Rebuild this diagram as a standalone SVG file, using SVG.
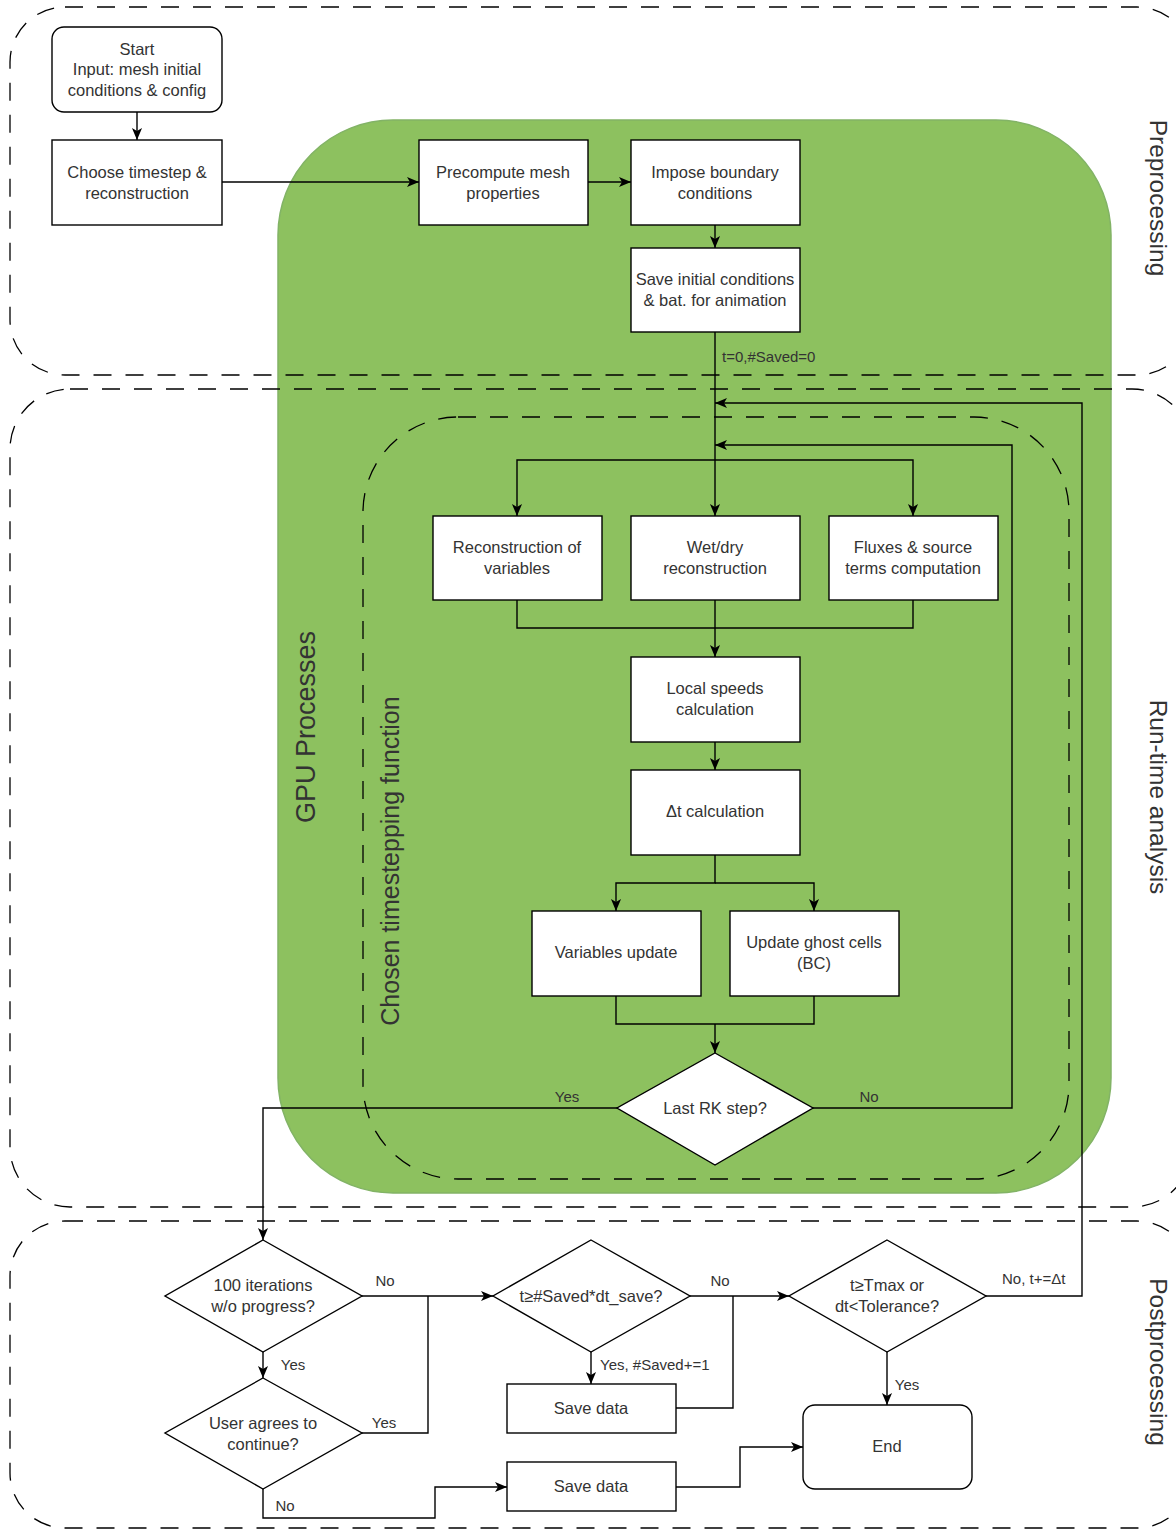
<svg xmlns="http://www.w3.org/2000/svg" width="1176" height="1530" viewBox="0 0 1176 1530">
<style>
text{font-family:"Liberation Sans",Arial,sans-serif;fill:#333;text-anchor:middle;dominant-baseline:central}
.n{font-size:16.5px}
.l{font-size:15px}
.lab{font-size:15px;text-anchor:start}
.big{font-size:24.5px}
.box{fill:#fff;stroke:#000;stroke-width:1.4}
.region{fill:none;stroke:#000;stroke-width:1.3;stroke-dasharray:18 14}
.c{fill:none;stroke:#000;stroke-width:1.4}
</style>
<defs>
<marker id="arr" markerUnits="userSpaceOnUse" markerWidth="12" markerHeight="12" refX="10" refY="5" orient="auto" viewBox="0 0 10 10">
<path d="M0,0.8 L10,5 L0,9.2 L2.5,5 z" fill="#000"/>
</marker>
</defs>
<rect x="0" y="0" width="1176" height="1530" fill="#fff"/>

<g id="gpu">
<rect x="278" y="120" width="833" height="1073" rx="115" fill="#8dc15f" stroke="#82b366" stroke-width="1.5"/>
<text class="big" transform="translate(306,727) rotate(-90)" style="font-size:27px">GPU Processes</text>
</g>
<g id="timestepping">
<rect x="363" y="417" width="706" height="762" rx="95" class="region"/>
<text class="big" transform="translate(390,861) rotate(-90)" style="font-size:25px">Chosen timestepping function</text>
</g>
<g id="preprocessing">
<rect x="10" y="7" width="1182" height="368" rx="55" class="region"/>
<text class="big" transform="translate(1158,198) rotate(90)">Preprocessing</text>
</g>
<g id="runtime">
<rect x="10" y="389" width="1182" height="818" rx="60" class="region"/>
<text class="big" transform="translate(1158,797) rotate(90)">Run-time analysis</text>
</g>
<g id="postprocessing">
<rect x="10" y="1221" width="1182" height="307" rx="55" class="region"/>
<text class="big" transform="translate(1158,1362) rotate(90)">Postprocessing</text>
</g>

<g id="connectors">
<path class="c" d="M137,112 V140" marker-end="url(#arr)"/>
<path class="c" d="M222,182 H419" marker-end="url(#arr)"/>
<path class="c" d="M588,182 H631" marker-end="url(#arr)"/>
<path class="c" d="M715,225 V248" marker-end="url(#arr)"/>
<path class="c" d="M715,332 V516" marker-end="url(#arr)"/>
<path class="c" d="M715,460 H517 V516" marker-end="url(#arr)"/>
<path class="c" d="M715,460 H913 V516" marker-end="url(#arr)"/>
<path class="c" d="M517,600 V628 H913 V600"/>
<path class="c" d="M715,600 V657" marker-end="url(#arr)"/>
<path class="c" d="M715,742 V770" marker-end="url(#arr)"/>
<path class="c" d="M715,855 V883 H616 V911" marker-end="url(#arr)"/>
<path class="c" d="M715,883 H814 V911" marker-end="url(#arr)"/>
<path class="c" d="M616,996 V1024 H814 V996"/>
<path class="c" d="M715,1024 V1053" marker-end="url(#arr)"/>
<path class="c" d="M813,1108 H1012 V445 H715" marker-end="url(#arr)"/>
<path class="c" d="M617,1108 H263 V1240" marker-end="url(#arr)"/>
<path class="c" d="M362,1296 H493" marker-end="url(#arr)"/>
<path class="c" d="M263,1352 V1378" marker-end="url(#arr)"/>
<path class="c" d="M362,1433 H428 V1296"/>
<path class="c" d="M263,1489 V1518 H435 V1487 H507" marker-end="url(#arr)"/>
<path class="c" d="M690,1296 H789" marker-end="url(#arr)"/>
<path class="c" d="M591,1352 V1384" marker-end="url(#arr)"/>
<path class="c" d="M676,1408 H733 V1296"/>
<path class="c" d="M986,1296 H1082 V403 H715" marker-end="url(#arr)"/>
<path class="c" d="M887,1352 V1405" marker-end="url(#arr)"/>
<path class="c" d="M676,1487 H740 V1447 H803" marker-end="url(#arr)"/>
<text class="lab" x="722" y="356">t=0,#Saved=0</text>
<text class="l" x="567" y="1096">Yes</text>
<text class="l" x="869" y="1096">No</text>
<text class="l" x="385" y="1280">No</text>
<text class="l" x="293" y="1364">Yes</text>
<text class="l" x="384" y="1422">Yes</text>
<text class="l" x="285" y="1505">No</text>
<text class="l" x="720" y="1280">No</text>
<text class="lab" x="600" y="1364">Yes, #Saved+=1</text>
<text class="lab" x="1002" y="1278">No, t+=Δt</text>
<text class="l" x="907" y="1384">Yes</text>
</g>

<g id="start">
<rect class="box" x="52" y="27" width="170" height="85" rx="12"/>
<text class="n" x="137" y="49">Start</text>
<text class="n" x="137" y="69">Input: mesh initial</text>
<text class="n" x="137" y="90">conditions &amp; config</text>
</g>
<g id="choose">
<rect class="box" x="52" y="140" width="170" height="85"/>
<text class="n" x="137" y="172">Choose timestep &amp;</text>
<text class="n" x="137" y="193">reconstruction</text>
</g>
<g id="precompute">
<rect class="box" x="419" y="140" width="169" height="85"/>
<text class="n" x="503" y="172">Precompute mesh</text>
<text class="n" x="503" y="193">properties</text>
</g>
<g id="impose">
<rect class="box" x="631" y="140" width="169" height="85"/>
<text class="n" x="715" y="172">Impose boundary</text>
<text class="n" x="715" y="193">conditions</text>
</g>
<g id="saveinit">
<rect class="box" x="631" y="248" width="169" height="84"/>
<text class="n" x="715" y="279">Save initial conditions</text>
<text class="n" x="715" y="300">&amp; bat. for animation</text>
</g>
<g id="reconstruction">
<rect class="box" x="433" y="516" width="169" height="84"/>
<text class="n" x="517" y="547">Reconstruction of</text>
<text class="n" x="517" y="568">variables</text>
</g>
<g id="wetdry">
<rect class="box" x="631" y="516" width="169" height="84"/>
<text class="n" x="715" y="547">Wet/dry</text>
<text class="n" x="715" y="568">reconstruction</text>
</g>
<g id="fluxes">
<rect class="box" x="829" y="516" width="169" height="84"/>
<text class="n" x="913" y="547">Fluxes &amp; source</text>
<text class="n" x="913" y="568">terms computation</text>
</g>
<g id="localspeeds">
<rect class="box" x="631" y="657" width="169" height="85"/>
<text class="n" x="715" y="688">Local speeds</text>
<text class="n" x="715" y="709">calculation</text>
</g>
<g id="dt">
<rect class="box" x="631" y="770" width="169" height="85"/>
<text class="n" x="715" y="811">Δt calculation</text>
</g>
<g id="varupdate">
<rect class="box" x="532" y="911" width="169" height="85"/>
<text class="n" x="616" y="952">Variables update</text>
</g>
<g id="ghost">
<rect class="box" x="730" y="911" width="169" height="85"/>
<text class="n" x="814" y="942">Update ghost cells</text>
<text class="n" x="814" y="963">(BC)</text>
</g>
<g id="lastrk">
<polygon class="box" points="715,1053 813,1108 715,1165 617,1108"/>
<text class="n" x="715" y="1108">Last RK step?</text>
</g>
<g id="iterations">
<polygon class="box" points="263,1240 362,1296 263,1352 165,1296"/>
<text class="n" x="263" y="1285">100 iterations</text>
<text class="n" x="263" y="1306">w/o progress?</text>
</g>
<g id="useragrees">
<polygon class="box" points="263,1378 362,1433 263,1489 165,1433"/>
<text class="n" x="263" y="1423">User agrees to</text>
<text class="n" x="263" y="1444">continue?</text>
</g>
<g id="savedcheck">
<polygon class="box" points="591,1240 690,1296 591,1352 493,1296"/>
<text class="n" x="591" y="1296">t≥#Saved*dt_save?</text>
</g>
<g id="savedata1">
<rect class="box" x="507" y="1384" width="169" height="49"/>
<text class="n" x="591" y="1408">Save data</text>
</g>
<g id="savedata2">
<rect class="box" x="507" y="1462" width="169" height="49"/>
<text class="n" x="591" y="1486">Save data</text>
</g>
<g id="tmax">
<polygon class="box" points="887,1240 986,1296 887,1352 789,1296"/>
<text class="n" x="887" y="1285">t≥Tmax or</text>
<text class="n" x="887" y="1306">dt&lt;Tolerance?</text>
</g>
<g id="end">
<rect class="box" x="803" y="1405" width="169" height="84" rx="12"/>
<text class="n" x="887" y="1446">End</text>
</g>
</svg>
